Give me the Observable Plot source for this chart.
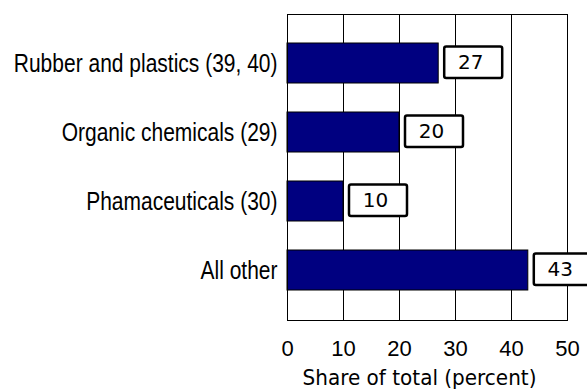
<!DOCTYPE html>
<html>
<head>
<meta charset="utf-8">
<script src="https://cdn.jsdelivr.net/npm/d3@7"></script>
<script src="https://cdn.jsdelivr.net/npm/@observablehq/plot@0.6"></script>
<style>
  html, body { margin: 0; padding: 0; background: #fff; }
  #chart svg { display: block; }
</style>
</head>
<body>
<div id="chart"></div>
<script>
const categories = ["Rubber and plastics (39, 40)", "Organic chemicals (29)", "Phamaceuticals (30)", "All other"];
const shares = [27, 20, 10, 43];
const xTicks = [0, 10, 20, 30, 40, 50];
const gridValues = [10, 20, 30, 40];
const xLabel = "Share of total (percent)";

const data = categories.map((c, i) => ({category: c, share: shares[i]}));

const chart = Plot.plot({
  width: 587,
  height: 390,
  marginLeft: 287,
  marginRight: 20,
  marginTop: 14,
  marginBottom: 70,
  x: {domain: [0, 50], ticks: xTicks},
  y: {domain: categories, paddingInner: 0.414, paddingOuter: 0.42},
  marks: [
    Plot.ruleX(gridValues, {stroke: "black", strokeWidth: 1}),
    Plot.barX(data, {x: "share", y: "category", fill: "#000080", stroke: "black", strokeWidth: 1}),
    Plot.frame({stroke: "black", strokeWidth: 1}),
    Plot.barX(data, {x1: "share", x2: "share", y: "category", fill: "white", stroke: "black", strokeWidth: 2.5, rx: 2,
      insetLeft: 6, insetRight: -64, insetTop: 3.5, insetBottom: 5}),
    Plot.text(data, {x: "share", y: "category", text: d => String(d.share), dx: 32, dy: -1,
      fontSize: 20, fontFamily: "DejaVu Sans", fill: "black", textAnchor: "middle"}),
    Plot.axisX({ticks: xTicks, tickSize: 0, tickPadding: 20, fontSize: 22, fontFamily: "Liberation Sans", label: null, color: "black"}),
    Plot.axisY({tickSize: 0, tickPadding: 10, fontSize: 25, fontFamily: "Liberation Sans", label: null, color: "black"}),
    Plot.text([xLabel], {frameAnchor: "bottom", lineAnchor: "bottom", dx: -8, dy: 64, fontSize: 20, fontFamily: "DejaVu Sans", fill: "black"})
  ]
});

d3.select(chart).selectAll('g[aria-label="y-axis tick label"] text')
  .attr("transform", function() { return (this.getAttribute("transform") || "") + " scale(0.84,1)"; });
d3.select(chart).selectAll('text').filter(function() { return this.textContent === xLabel; })
  .attr("transform", function() { return (this.getAttribute("transform") || "") + " scale(1,1.1)"; });

document.getElementById("chart").appendChild(chart);
</script>
</body>
</html>
